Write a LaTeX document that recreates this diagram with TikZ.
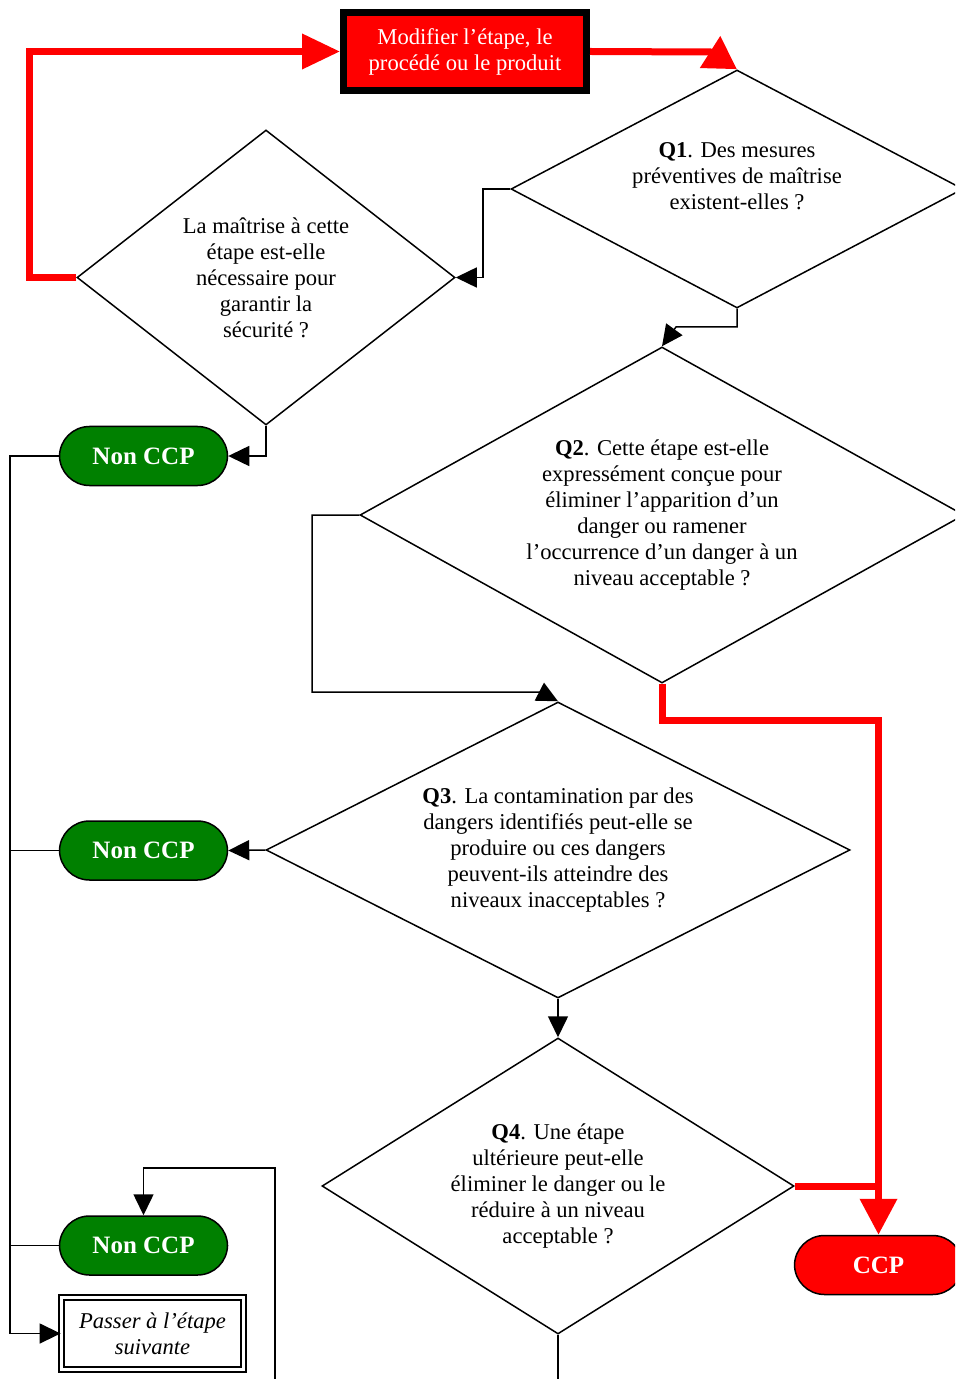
\documentclass[tikz,border=0pt]{standalone}
\usepackage{fontspec}
\setmainfont{Liberation Serif}
\usetikzlibrary{shapes.geometric,arrows.meta}
\definecolor{ccpgreen}{RGB}{0,128,0}
\definecolor{ccpred}{RGB}{255,0,0}

\begin{document}
\begin{tikzpicture}[x=0.5pt,y=-0.5pt,
	question/.style={diamond,draw,line width=0.75pt,inner sep=0pt,align=center,font=\fontsize{11.3}{13}\selectfont},
	verdict/.style={draw,line width=0.75pt,rounded corners=15pt,minimum width=84pt,minimum height=29.5pt,text=white,font=\fontsize{12.5}{14}\selectfont\bfseries},
	nonccp/.style={verdict,fill=ccpgreen},
	ccpbox/.style={verdict,fill=ccpred},
	link/.style={line width=0.75pt,-{Triangle[length=10.5pt,width=10pt]}},
	redlink/.style={ccpred,line width=3.5pt,-{Triangle[length=18pt,width=18pt]}},
	redline/.style={ccpred,line width=3.5pt}]
	\useasboundingbox (0,0) rectangle (955,1379);
	\clip (0,0) rectangle (955,1379);
	
	% action box
	\node[draw,line width=3.5pt,fill=ccpred,text=white,align=center,minimum width=121.5pt,minimum height=39pt,inner sep=0pt,font=\fontsize{11.3}{13}\selectfont] (modify) at (465,51.5) {Modifier l’étape, le\\procédé ou le produit};
	
	% questions
	\node[question,aspect=1.9,minimum width=226pt,minimum height=119pt] (q1) at (737,189) {\textbf{Q1}. Des mesures\\préventives de maîtrise\\existent-elles ?\\\mbox{}};
	\node[question,aspect=1.28,minimum width=189pt,minimum height=147.5pt] (safety) at (266,277.5) {La maîtrise à cette\\étape est-elle\\nécessaire pour\\garantir la\\sécurité ?};
	\node[question,aspect=1.8,minimum width=302pt,minimum height=168pt] (q2) at (662,515) {\textbf{Q2}. Cette étape est-elle\\expressément conçue pour\\éliminer l’apparition d’un\\danger ou ramener\\l’occurrence d’un danger à un\\niveau acceptable ?};
	\node[question,aspect=1.97,minimum width=292pt,minimum height=148pt] (q3) at (558,850) {\textbf{Q3}. La contamination par des\\dangers identifiés peut-elle se\\produire ou ces dangers\\peuvent-ils atteindre des\\niveaux inacceptables ?};
	\node[question,aspect=1.6,minimum width=236pt,minimum height=148pt] (q4) at (558,1186) {\textbf{Q4}. Une étape\\ultérieure peut-elle\\éliminer le danger ou le\\réduire à un niveau\\acceptable ?};
	
	% outcomes
	\node[nonccp] (non1) at (143.5,456) {Non CCP};
	\node[nonccp] (non2) at (143.5,850.5) {Non CCP};
	\node[nonccp] (non3) at (143.5,1245.5) {Non CCP};
	\node[ccpbox] (ccp) at (878.5,1265) {CCP};
	\node[draw,double,line width=0.9pt,double distance=1.6pt,align=center,minimum width=91pt,minimum height=36pt,inner sep=0pt,font=\fontsize{11.3}{13}\selectfont\itshape] (next) at (152.5,1333.5) {Passer à l’étape\\suivante};
	
	% loose ends
	\coordinate (q4out) at (558,1390);
	\coordinate (backin) at (275,1390);
	\coordinate (backtop) at (275,1168);
	\coordinate (spine) at (10,456);
	
	% red connectors
	\draw[redlink,-{Triangle[length=19pt,width=17pt]}] (safety.west) -- ++(-47,0) |- (modify.west);
	\draw[redlink,-{Triangle[length=16pt,width=18pt]}] (modify.east) -- (710,52) -- (q1.north);
	\draw[redlink] (q2.south) -- (662,720) -| (ccp.north);
	\draw[redline] (q4.east) -- (878,1186);
	
	% black connectors
	\draw[link] (q1.west) -- (483,189) |- (safety.east);
	\draw[link] (q1.south) |- (676,327) -- (q2.north);
	\draw[link] (safety.south) |- (non1.east);
	\draw[link] (q2.west) -| (312,692) -- (540,692) -- (q3.north);
	\draw[link] (q3.west) -- (non2.east);
	\draw[link] (q3.south) -- (q4.north);
	\draw[line width=0.75pt] (q4.south) -- (q4out);
	\draw[link] (backin) -- (backtop) -| (non3.north);
	
	% left side
	\draw[link] (non1.west) -- (spine) |- (next.west);
	\draw[line width=0.75pt] (non2.west) -- (non2.west -| spine);
	\draw[line width=0.75pt] (non3.west) -- (non3.west -| spine);
	
\end{tikzpicture}
\end{document}
